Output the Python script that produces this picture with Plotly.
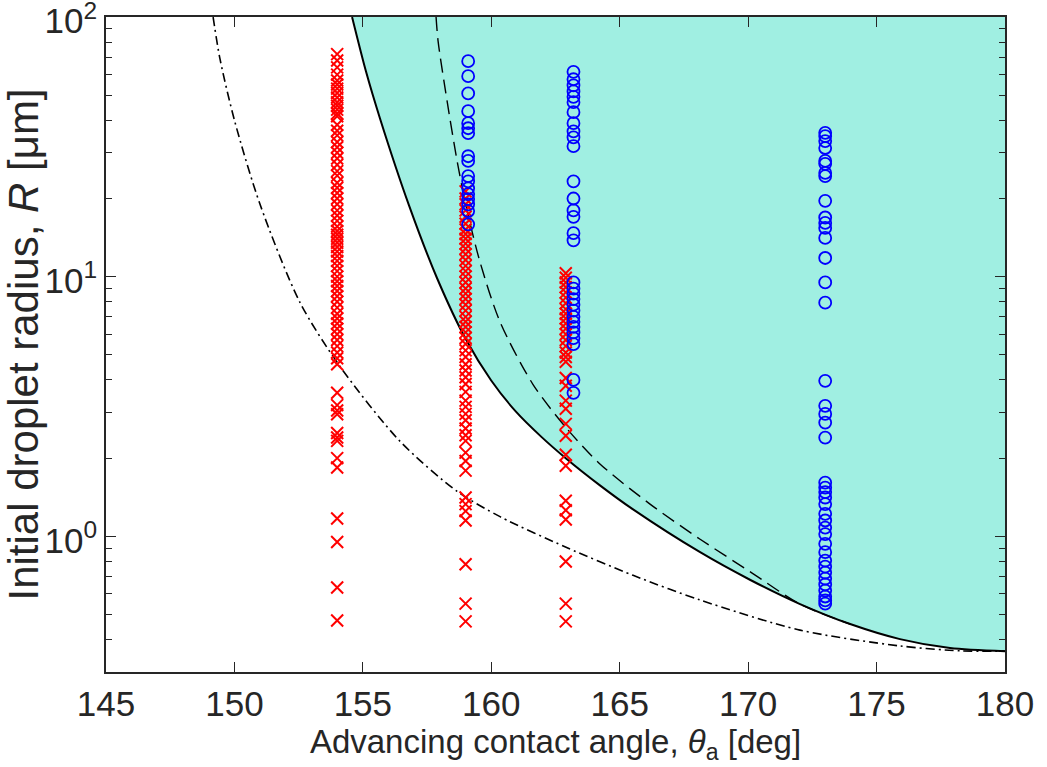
import plotly.graph_objects as go

# ---------------- data ----------------
X_RANGE = [145, 180]
Y_MIN, Y_MAX = 0.3, 100

x_ticks = [145, 150, 155, 160, 165, 170, 175, 180]
y_ticks = [1, 10, 100]
y_tick_text = ["10<sup>0</sup>", "10<sup>1</sup>", "10<sup>2</sup>"]
y_minor = [0.3, 0.4, 0.5, 0.6, 0.7, 0.8, 0.9, 2, 3, 4, 5, 6, 7, 8, 9,
           20, 30, 40, 50, 60, 70, 80, 90]

# solid boundary curve (edge of shaded region)
theta_solid = [154.58, 155.12, 155.67, 156.80, 157.89, 159.02, 159.99, 160.96, 161.94,
               162.91, 164.23, 165.52, 168.13, 170.07, 172.02, 173.97, 175.91, 177.86, 180.0]
R_solid = [100, 61.8, 40.6, 18.78, 9.86, 5.71, 3.99, 3.02, 2.42,
           1.994, 1.571, 1.269, 0.868, 0.680, 0.548, 0.459, 0.4016, 0.371, 0.3605]

# dashed curve
theta_dash = [157.85, 157.93, 158.28, 158.67, 159.02, 159.56, 160.34, 161.62, 162.91,
              164.23, 166.18, 168.13, 170.07, 172.02, 173.97]
R_dash = [100, 80.6, 47.4, 27.9, 18.7, 11.4, 6.70, 3.85, 2.62,
          1.90, 1.33, 0.974, 0.731, 0.548, 0.459]

# dash-dot curve
theta_dashdot = [149.17, 149.44, 150.02, 151.0, 152.55, 154.11, 156.45, 158.67, 160.34,
                 162.91, 165.52, 168.13, 172.02, 175.91, 178.25, 180.0]
R_dashdot = [100, 68.8, 39.4, 18.95, 7.96, 4.51, 2.32, 1.49, 1.19,
             0.907, 0.707, 0.568, 0.435, 0.378, 0.362, 0.361]

# red crosses
red_theta_154 = 154.0
red_R_154 = [72, 68, 64, 60, 57, 55, 53, 51, 49, 47, 45.5, 44, 42.5, 41.5, 38.5, 36.5,
             35, 33, 31.5, 30, 28.5, 27, 25.5, 24.5, 23, 22, 21, 20, 19, 18, 17.2, 16.4,
             15.6, 15.0, 14.5, 14.0, 13.5, 13.0, 12.5, 12.0, 11.5, 11.0, 10.5, 10.0, 9.6,
             9.2, 8.8, 8.4, 8.0, 7.6, 7.2, 6.9, 6.6, 6.3, 6.0, 5.7, 5.4, 5.1, 4.85, 4.6,
             3.57, 3.2, 3.05, 2.95, 2.5, 2.4, 2.33, 2.0, 1.84, 1.17, 0.95, 0.635, 0.474]
red_theta_159 = 159.0
red_R_159 = [21.3, 20, 19, 18, 17, 16, 15.2, 14.6, 14.0, 13.4, 12.8, 12.2, 11.6, 11.0,
             10.5, 10.0, 9.5, 9.0, 8.6, 8.2, 7.8, 7.4, 7.0, 6.7, 6.4, 6.1, 5.8, 5.5, 5.2,
             4.9, 4.6, 4.35, 4.1, 3.86, 3.6, 3.33, 3.15, 2.96, 2.8, 2.6, 2.45, 2.33, 2.1,
             1.95, 1.79, 1.41, 1.33, 1.25, 1.15, 0.78, 0.55, 0.47]
red_theta_163 = 162.9
red_R_163 = [10.3, 9.9, 9.5, 9.1, 8.7, 8.3, 7.9, 7.5, 7.2, 6.9, 6.6, 6.3, 6.0, 5.7, 5.4,
             5.1, 4.9, 4.7, 4.07, 3.8, 3.33, 3.1, 2.71, 2.44, 2.06, 1.87, 1.37, 1.26,
             1.16, 0.8, 0.55, 0.47]

# blue circles
blue_theta_159 = 159.1
blue_R_159 = [67.6, 59.2, 50.8, 43.4, 39, 37.3, 35.7, 29.1, 27.9, 24.4, 23.3, 21.9,
              20.8, 19.9, 19, 17.9, 15.9]
blue_theta_163 = 163.2
blue_R_163 = [61.5, 57.6, 54.6, 51.7, 49.3, 47, 43, 39, 36.3, 34.4, 31.8, 23.3, 20, 18,
              17, 14.7, 13.8, 9.5, 9.0, 8.6, 8.2, 7.8, 7.4, 7.0, 6.7, 6.4, 6.1, 5.8, 5.5,
              4.0, 3.57]
blue_theta_173 = 173.0
blue_R_173 = [35.8, 34.8, 33.3, 31.3, 27.9, 27.2, 25.1, 24.4, 19.6, 16.9, 16.1, 15.4,
              14.1, 11.8, 9.5, 7.94, 3.97, 3.18, 2.96, 2.74, 2.4, 1.61, 1.54, 1.48, 1.41,
              1.33, 1.22, 1.15, 1.08, 1.02, 0.935, 0.868, 0.806, 0.764, 0.725, 0.687,
              0.652, 0.618, 0.586, 0.566, 0.55]

# ---------------- styles ----------------
AX = "#262626"
FILL = "#A0EFE2"
FONT = "Liberation Sans, Arial, Helvetica, sans-serif"
SMOOTH = 0.8

fig = go.Figure()

# shaded region: between the solid curve and the top edge of the axes
fig.add_trace(go.Scatter(x=theta_solid, y=R_solid, mode="lines",
                         line=dict(width=0, color=FILL, shape="spline", smoothing=SMOOTH),
                         hoverinfo="skip", showlegend=False))
fig.add_trace(go.Scatter(x=[theta_solid[0], X_RANGE[1]], y=[Y_MAX, Y_MAX], mode="lines",
                         fill="tonexty", fillcolor=FILL, line=dict(width=0, color=FILL),
                         hoverinfo="skip", showlegend=False))

fig.add_trace(go.Scatter(x=theta_dashdot, y=R_dashdot, mode="lines",
                         line=dict(color="black", width=1.6, dash="9px,4px,2px,4px",
                                   shape="spline", smoothing=SMOOTH),
                         showlegend=False))
fig.add_trace(go.Scatter(x=theta_dash, y=R_dash, mode="lines",
                         line=dict(color="black", width=1.4, dash="14px,7px",
                                   shape="spline", smoothing=SMOOTH),
                         showlegend=False))
fig.add_trace(go.Scatter(x=theta_solid, y=R_solid, mode="lines",
                         line=dict(color="black", width=2, shape="spline", smoothing=SMOOTH),
                         showlegend=False))

red_marker = dict(symbol="x-thin-open", size=12, color="#FF0000",
                  line=dict(color="#FF0000", width=2))
for th, rr in [(red_theta_154, red_R_154), (red_theta_159, red_R_159),
               (red_theta_163, red_R_163)]:
    fig.add_trace(go.Scatter(x=[th] * len(rr), y=rr, mode="markers",
                             marker=red_marker, showlegend=False))

blue_marker = dict(symbol="circle-open", size=12, color="#0000FF",
                   line=dict(color="#0000FF", width=1.8))
for th, rr in [(blue_theta_159, blue_R_159), (blue_theta_163, blue_R_163),
               (blue_theta_173, blue_R_173)]:
    fig.add_trace(go.Scatter(x=[th] * len(rr), y=rr, mode="markers",
                             marker=blue_marker, showlegend=False))

fig.update_layout(
    width=1047, height=767, autosize=False,
    margin=dict(l=106, r=42, t=17, b=95, pad=0),
    plot_bgcolor="white", paper_bgcolor="white",
    font=dict(family=FONT, color=AX, size=34),
)
fig.update_xaxes(
    range=X_RANGE, tickvals=x_ticks, ticks="inside", ticklen=10, tickwidth=1.3,
    tickcolor=AX, showline=True, linecolor=AX, linewidth=1.6, mirror="ticks",
    showgrid=False, zeroline=False, ticklabeloverflow="allow", automargin=False,
    tickfont=dict(family=FONT, size=35, color=AX),
    title=dict(text="Advancing contact angle, <i>θ</i><sub>a</sub> [deg]",
               font=dict(family=FONT, size=33, color=AX), standoff=3),
)
fig.update_yaxes(
    type="log", range=[-0.5228787, 2.0002], tickvals=y_ticks, ticktext=y_tick_text,
    ticks="inside", ticklen=10, tickwidth=1.3, tickcolor=AX,
    minor=dict(tickmode="array", tickvals=y_minor, ticks="inside", ticklen=6,
               tickwidth=1.3, tickcolor=AX, showgrid=False),
    showline=True, linecolor=AX, linewidth=1.6, mirror="ticks",
    showgrid=False, zeroline=False, ticklabeloverflow="allow", automargin=False,
    ticklabelshift=4,
    tickfont=dict(family=FONT, size=35, color=AX),
    title=dict(text="Initial droplet radius, <i>R</i> [μm]",
               font=dict(family=FONT, size=42, color=AX), standoff=4),
)

fig.write_html("out.html")
